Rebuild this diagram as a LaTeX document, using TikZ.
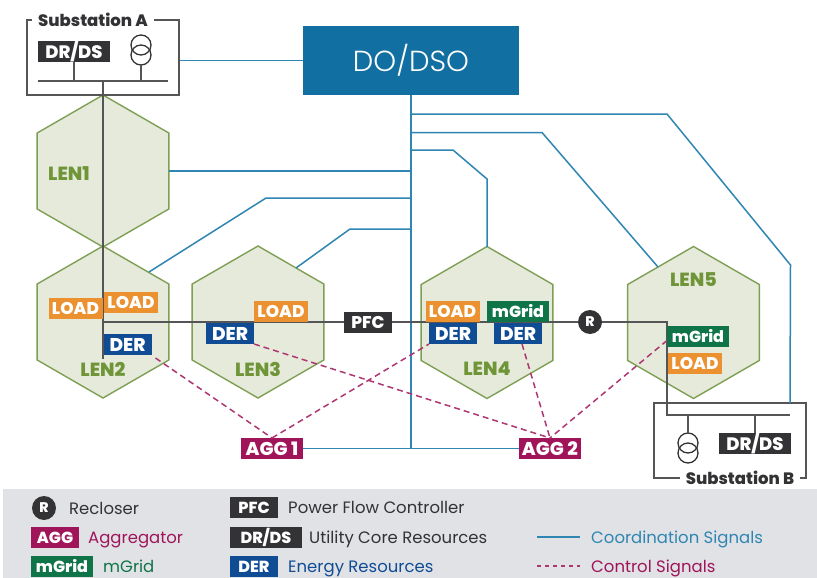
\documentclass[tikz,border=0pt]{standalone}
\usepackage{fontspec}
\setmainfont{Poppins}
\newfontfamily\thinfont{Poppins Light}
\newfontfamily\heavyfont{Poppins ExtraBold}
\usetikzlibrary{shapes.geometric}
\definecolor{cblue}{HTML}{2F86B2}
\definecolor{dsoblue}{HTML}{126FA1}
\definecolor{hexline}{HTML}{7F9F55}
\definecolor{hexfill}{HTML}{E5EADA}
\definecolor{hextext}{HTML}{6F9538}
\definecolor{loadc}{HTML}{EC9130}
\definecolor{derc}{HTML}{0F4C94}
\definecolor{gridc}{HTML}{0F7448}
\definecolor{aggc}{HTML}{A0145A}
\definecolor{darkc}{HTML}{333335}
\definecolor{legbg}{HTML}{E1E2E6}
\definecolor{gline}{HTML}{555558}
\tikzset{
 x=1pt,y=-1pt,
 hex/.style={regular polygon,regular polygon sides=6,minimum size=152pt,inner sep=0pt,outer sep=0pt,draw=hexline,fill=hexfill,line width=1.4pt},
 hexlabel/.style={text=hextext,font=\fontsize{19}{19}\selectfont\heavyfont,inner sep=0pt},
 tag/.style={text=white,font=\fontsize{17}{17}\selectfont\heavyfont,inner sep=0pt,outer sep=0pt,minimum height=21pt,text height=12pt,text depth=0pt},
 loadtag/.style={tag,fill=loadc,minimum width=54pt},
 dertag/.style={tag,fill=derc,minimum width=48pt,font=\fontsize{18.5}{18.5}\selectfont\heavyfont,text height=13pt},
 gridtag/.style={tag,fill=gridc,minimum width=62pt,font=\fontsize{16}{16}\selectfont\heavyfont},
 drtag/.style={tag,fill=darkc,minimum width=72pt,font=\fontsize{18}{18}\selectfont\heavyfont,text height=13pt},
 pfctag/.style={tag,fill=darkc,minimum width=48pt},
 aggtag/.style={tag,fill=aggc,minimum width=62pt,font=\fontsize{18.5}{18.5}\selectfont\heavyfont,text height=13pt},
 smalltag/.style={font=\fontsize{16}{16}\selectfont\heavyfont,text height=12pt},
 coord/.style={draw=cblue,line width=1.5pt,line join=miter},
 ctrl/.style={draw=aggc!85!white,line width=1.5pt,dash pattern=on 6pt off 4pt},
 grid/.style={draw=gline,line width=1.5pt},
 subbox/.style={draw=gline,line width=1.5pt,fill=none},
 subname/.style={fill=white,text=darkc,font=\fontsize{16.5}{16.5}\selectfont\heavyfont,inner sep=0pt,minimum height=16pt},
 trafo/.style={circle,draw=darkc,line width=1.3pt,minimum size=20pt,inner sep=0pt,outer sep=0pt},
 recl/.style={circle,fill=darkc,text=white,minimum size=24pt,inner sep=0pt,font=\fontsize{14}{14}\selectfont\heavyfont},
 legtext/.style={anchor=base west,inner sep=0pt,font=\fontsize{16.5}{16.5}\selectfont},
}
\begin{document}
\begin{tikzpicture}
\useasboundingbox (0,0) rectangle (817,578);
\fill[white] (0,0) rectangle (817,578);
% hexagons
\node[hex,shape border rotate=30] (h1) at (103,171) {};
\node[hex,shape border rotate=30] (h2) at (103,322) {};
\node[hex,shape border rotate=30] (h3) at (258,322) {};
\node[hex,shape border rotate=30] (h4) at (487,322.5) {};
\node[hex,shape border rotate=30] (h5) at (693.5,322.5) {};
% main boxes
\node[fill=dsoblue,text=white,inner sep=0pt,minimum width=216pt,minimum height=69pt,font=\fontsize{29}{29}\selectfont\thinfont] (dso) at (411,60.5) {DO/DSO};
% substations
\draw[subbox] (27,20) rectangle (179,95);
\node[subbox,draw=none,minimum width=152pt,minimum height=75pt] (subA) at (103,57.5) {};
\node[subname,minimum width=122pt] (subAn) at (93,20) {Substation A};
\draw[subbox] (654,403) rectangle (806,478);
\node[subbox,draw=none,minimum width=152pt,minimum height=75pt] (subB) at (730,440.5) {};
\node[subname,minimum width=120pt] (subBn) at (740,478) {Substation B};
% coordinates
\coordinate (jDsoSub) at (411,95);
\coordinate (jBot) at (411,449);
\coordinate (j1) at (411,171);
\coordinate (j2) at (411,198);
\coordinate (j3) at (411,229);
\coordinate (j4) at (411,150);
\coordinate (j5) at (411,132.5);
\coordinate (j6) at (411,114);
\coordinate (h1e) at (169,171);
\coordinate (h2e) at (149,272);
\coordinate (h3e) at (296,268);
\coordinate (h4t) at (487,247);
\coordinate (h5e) at (658,267);
\coordinate (sbt) at (790,403);
% AGG
\node[aggtag] (agg1) at (272,448.5) {AGG 1};
\node[aggtag] (agg2) at (550,448.5) {AGG 2};
% coordination signals
\draw[coord] (subA.east |- dso.west) -- (dso.west);
\draw[coord] (jDsoSub) -- (jBot);
\draw[coord] (agg1.east) -- (agg2.west);
\draw[coord] (h1e) -- (j1);
\draw[coord] (h2e) -- (266,198) -- (j2);
\draw[coord] (h3e) -- (350,229) -- (j3);
\draw[coord] (j4) -- (453,150) -- (487,179) -- (h4t);
\draw[coord] (j5) -- (542,132.5) -- (h5e);
\draw[coord] (j6) -- (667,114) -- (790.5,265) -- (sbt);
% grid lines
\coordinate (aBusL) at (38,81);
\coordinate (aBusR) at (168,81);
\coordinate (aBusM) at (103,81);
\coordinate (g2end) at (103,359);
\coordinate (g2mid) at (103,322);
\coordinate (gCorner) at (667,322);
\coordinate (bBusL) at (667,415);
\coordinate (bBusR) at (790,415);
\draw[grid] (aBusL) -- (aBusR);
\draw[grid] (aBusM) -- (g2end);
\draw[grid] (g2mid) -- (gCorner) -- (bBusL) -- (bBusR);
% substation A contents
\node[drtag] (drA) at (74,52) {DR/DS};
\node[trafo] (tA1) at (141,45) {};
\node[trafo] (tA2) at (141,55) {};
\draw[grid] (drA.south) -- (74,81);
\draw[grid] (tA2.south) -- (141,81);
% substation B contents
\node[drtag] (drB) at (755,443.5) {DR/DS};
\node[trafo] (tB1) at (688,443) {};
\node[trafo] (tB2) at (688,453) {};
\draw[grid] (drB.north) -- (755,415);
\draw[grid] (tB1.north) -- (688,415);
% LEN labels
\node[hexlabel] (l1) at (69,174) {LEN1};
\node[hexlabel] (l2) at (103,369) {LEN2};
\node[hexlabel] (l3) at (258,369) {LEN3};
\node[hexlabel] (l4) at (487,369) {LEN4};
\node[hexlabel] (l5) at (693.5,280) {LEN5};
% tags
\node[loadtag] (load2a) at (75.5,308) {LOAD};
\node[loadtag] (load2b) at (131,302) {LOAD};
\node[dertag] (der2) at (127.5,344.5) {DER};
\node[loadtag] (load3) at (281,311) {LOAD};
\node[dertag] (der3) at (230,333.5) {DER};
\node[pfctag] (pfc) at (368,322.5) {PFC};
\node[loadtag] (load4) at (452.5,311.5) {LOAD};
\node[gridtag] (grid4) at (518,311.5) {mGrid};
\node[dertag] (der4a) at (453,333.5) {DER};
\node[dertag] (der4b) at (518,333.5) {DER};
\node[recl] (rc) at (590,322) {R};
\node[gridtag] (grid5) at (698,336.5) {mGrid};
\node[loadtag] (load5) at (695,363.5) {LOAD};
% control signals
\draw[ctrl] (der2.south east) ++(4,3) -- (agg1.north);
\draw[ctrl] (agg1.north) -- (der4a.south west);
\draw[ctrl] (der3.south east) -- (agg2.north);
\draw[ctrl] (der4b.south) ++(4,0) -- (agg2.north);
\draw[ctrl] (grid5.west) ++(0,4) -- (agg2.north);
% legend
\fill[legbg] (3,489) rectangle (817,578);
\node[recl] (lr) at (44,508) {R};
\node[legtext,text=darkc] (lrt) at (69,514) {Recloser};
\node[tag,fill=aggc,minimum width=48pt,smalltag] (la) at (55,537) {AGG};
\node[legtext,text=aggc] (lat) at (88,543) {Aggregator};
\node[tag,fill=gridc,minimum width=62pt,smalltag] (lm) at (62,566) {mGrid};
\node[legtext,text=gridc] (lmt) at (103,572) {mGrid};
\node[tag,fill=darkc,minimum width=48pt,smalltag] (lp) at (254,507.5) {PFC};
\node[legtext,text=darkc] (lpt) at (288,513) {Power Flow Controller};
\node[tag,fill=darkc,minimum width=72pt,smalltag] (ld) at (266,537) {DR/DS};
\node[legtext,text=darkc] (ldt) at (309,543) {Utility Core Resources};
\node[tag,fill=derc,minimum width=48pt,smalltag] (le) at (254,566.5) {DER};
\node[legtext,text=derc] (let) at (288,572) {Energy Resources};
\coordinate (lc1) at (537,537);
\coordinate (lc2) at (580,537);
\coordinate (lk1) at (537,566);
\coordinate (lk2) at (580,566);
\draw[coord] (lc1) -- (lc2);
\draw[ctrl,line width=1.2pt,dash pattern=on 4pt off 4pt] (lk1) -- (lk2);
\node[legtext,text=cblue] (lct) at (591,543) {Coordination Signals};
\node[legtext,text=aggc] (lkt) at (591,572) {Control Signals};
\end{tikzpicture}
\end{document}
